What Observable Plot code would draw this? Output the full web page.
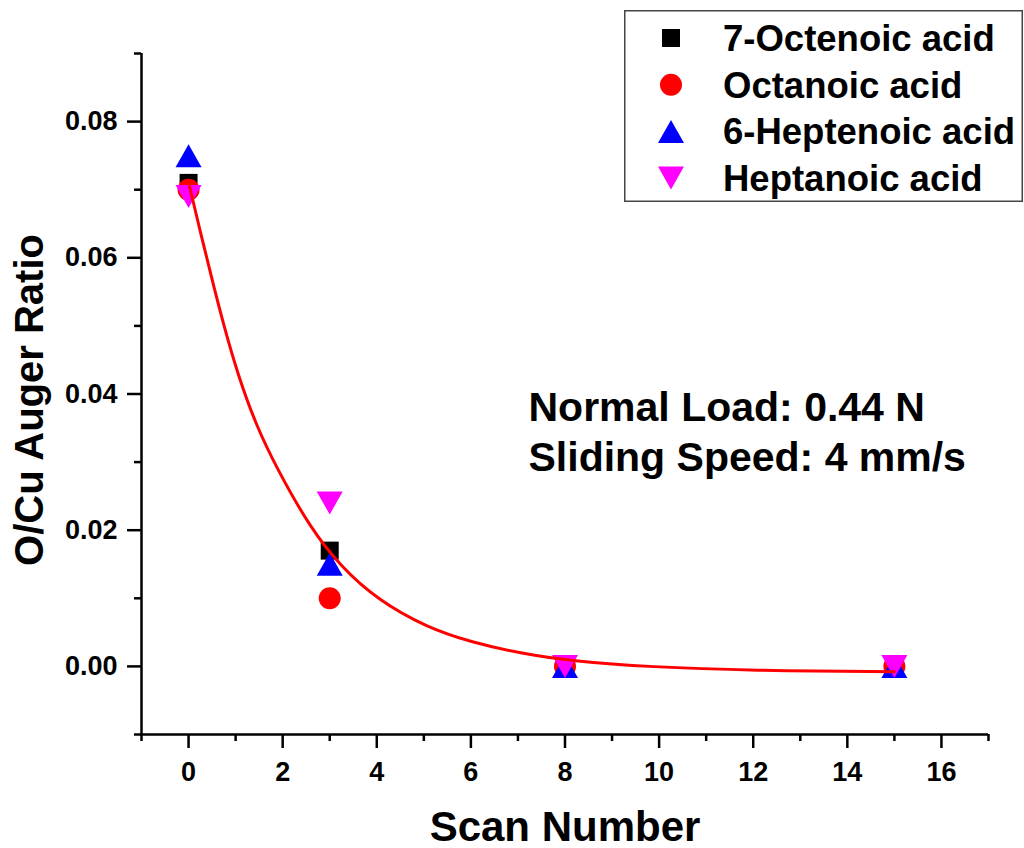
<!DOCTYPE html>
<html>
<head>
<meta charset="utf-8">
<script src="https://cdn.jsdelivr.net/npm/d3@7"></script>
<script src="https://cdn.jsdelivr.net/npm/@observablehq/plot@0.6"></script>
<style>
  html, body { margin: 0; padding: 0; background: #fff; }
  #wrap { position: relative; width: 1024px; height: 848px; font-family: "Liberation Sans", Arial, sans-serif; }
  #legend { position: absolute; left: 624px; top: 10px; }
</style>
</head>
<body>
<div id="wrap"><div id="chart"></div><div id="legend"></div></div>
<script>
// ---- data ----
const scans = [0, 3, 8, 15];
const seriesNames = ["7-Octenoic acid", "Octanoic acid", "6-Heptenoic acid", "Heptanoic acid"];
const octenoic7 = [0.071, 0.017, 0, 0];
const octanoic = [0.070, 0.010, 0, 0];
const heptenoic6 = [0.075, 0.015, 0, 0];
const heptanoic = [0.069, 0.024, 0, 0];
const seriesColors = ["#000000", "#ff0000", "#0000ff", "#ff00ff"];
// fitted decay curve
const fitX = [0, 0.25, 0.5, 0.75, 1.06, 1.43, 1.88, 2.59, 3.23, 4.01, 5.07, 5.99, 7.06, 8.12, 9.82, 11.95, 15];
const fitY = [0.0711, 0.0638, 0.0568, 0.0500, 0.0426, 0.0355, 0.0290, 0.0203, 0.0147, 0.0098, 0.0057, 0.0036, 0.0019, 0.0008, -0.0001, -0.0006, -0.0008];
const xDomain = [-1, 17];
const yDomain = [-0.01, 0.09];
const xTicks = [0, 2, 4, 6, 8, 10, 12, 14, 16];
const xMinorTicks = [-1, 1, 3, 5, 7, 9, 11, 13, 15, 17];
const yTicks = [0, 0.02, 0.04, 0.06, 0.08];
const yMinorTicks = [-0.01, 0.01, 0.03, 0.05, 0.07, 0.09];
const xTitle = "Scan Number";
const yTitle = "O/Cu Auger Ratio";
const noteText = "Normal Load: 0.44 N\nSliding Speed: 4 mm/s";

// ---- symbols ----
const k = r => r / 10;
const symSquare = {draw(c, size) { const s = k(Math.sqrt(size / Math.PI)) * 9; c.rect(-s, -s, 2 * s, 2 * s); }};
const symCircle = {draw(c, size) { const s = k(Math.sqrt(size / Math.PI)) * 11; c.moveTo(s, 0); c.arc(0, 0, s, 0, 2 * Math.PI); c.closePath(); }};
const symUp = {draw(c, size) { const f = k(Math.sqrt(size / Math.PI)); c.moveTo(0, -11.5 * f); c.lineTo(13 * f, 11.5 * f); c.lineTo(-13 * f, 11.5 * f); c.closePath(); }};
const symDown = {draw(c, size) { const f = k(Math.sqrt(size / Math.PI)); c.moveTo(0, 11.5 * f); c.lineTo(13 * f, -11.5 * f); c.lineTo(-13 * f, -11.5 * f); c.closePath(); }};
const seriesSymbols = [symSquare, symCircle, symUp, symDown];
const seriesValues = [octenoic7, octanoic, heptenoic6, heptanoic];

const rows = seriesNames.flatMap((name, i) => scans.map((s, j) => ({series: name, scan: s, value: seriesValues[i][j], idx: i})));
const fit = fitX.map((x, i) => ({x, y: fitY[i]}));

const font = "'Liberation Sans', Arial, sans-serif";

const plot = Plot.plot({
  width: 1024,
  height: 848,
  marginLeft: 141,
  marginRight: 36,
  marginTop: 53,
  marginBottom: 114,
  style: {fontFamily: font, fontWeight: "bold", color: "#000", background: "#fff"},
  x: {domain: xDomain},
  y: {domain: yDomain},
  marks: [
    Plot.ruleX([xDomain[0]], {y1: yDomain[0], y2: yDomain[1], stroke: "#000", strokeWidth: 2.5}),
    Plot.ruleY([yDomain[0]], {x1: xDomain[0] , x2: xDomain[1], stroke: "#000", strokeWidth: 2.5}),
    Plot.axisX({ticks: xTicks, tickSize: 14, tickPadding: 13, fontSize: 27, fontWeight: "bold", strokeWidth: 2.5, label: null, tickFormat: d => String(d)}),
    Plot.axisX({ticks: xMinorTicks, tickSize: 7, strokeWidth: 2.5, label: null, tickFormat: () => ""}),
    Plot.axisY({ticks: yTicks, tickSize: 14, tickPadding: 10, fontSize: 27, fontWeight: "bold", strokeWidth: 2.5, label: null, tickFormat: d3.format(".2f")}),
    Plot.axisY({ticks: yMinorTicks, tickSize: 7, strokeWidth: 2.5, label: null, tickFormat: () => ""}),
    ...seriesNames.map((name, i) => Plot.dot(rows.filter(d => d.idx === i), {
      x: "scan", y: "value", symbol: () => seriesSymbols[i], r: 10, fill: seriesColors[i], stroke: "none"
    })),
    Plot.line(fit, {x: "x", y: "y", stroke: "#ff0000", strokeWidth: 3, curve: "basis"}),
    Plot.text([noteText], {frameAnchor: "top-left", textAnchor: "start", lineAnchor: "bottom", lineHeight: 1.2, dx: 387, dy: 417, fontSize: 41, fontWeight: "bold", fill: "#000"}),
    Plot.text([xTitle], {frameAnchor: "bottom", textAnchor: "middle", lineAnchor: "bottom", dy: 106, fontSize: 42, fontWeight: "bold", fill: "#000"}),
    Plot.text([yTitle], {frameAnchor: "left", textAnchor: "middle", lineAnchor: "bottom", rotate: -90, dx: -99, dy: 6, fontSize: 40, fontWeight: "bold", fill: "#000"})
  ]
});
document.getElementById("chart").appendChild(plot);

// ---- legend ----
const lw = 399, lh = 192;
const lsvg = d3.select("#legend").append("svg").attr("width", lw).attr("height", lh)
  .style("font-family", font).style("font-weight", "bold");
lsvg.append("rect").attr("x", 0.75).attr("y", 0.75).attr("width", lw - 1.5).attr("height", lh - 1.5)
  .attr("fill", "#fff").attr("stroke", "#444").attr("stroke-width", 1.5);
seriesNames.forEach((name, i) => {
  const cy = 28 + i * 46.7;
  lsvg.append("path").attr("transform", `translate(47,${cy})`)
    .attr("d", d3.symbol().type(seriesSymbols[i]).size(100 * Math.PI)())
    .attr("fill", seriesColors[i]);
  lsvg.append("text").attr("x", 99).attr("y", cy + 13).attr("font-size", 36.5).attr("fill", "#000").text(name);
});
</script>
</body>
</html>
